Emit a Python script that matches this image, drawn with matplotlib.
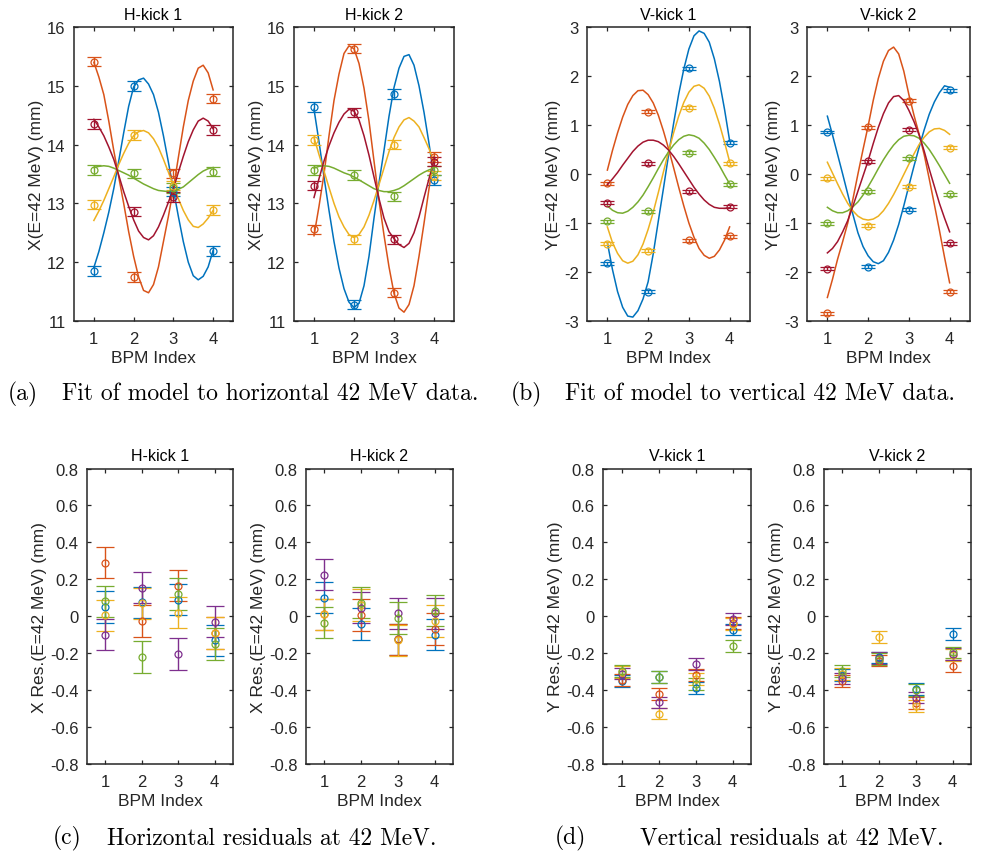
import matplotlib
matplotlib.use("Agg")
import matplotlib.pyplot as plt
from matplotlib.ticker import FuncFormatter, FixedLocator

plt.rcParams['font.family'] = ['Liberation Sans', 'DejaVu Sans']
plt.rcParams['axes.unicode_minus'] = False

# ---------------- data ----------------
bpm = [1, 2, 3, 4]
curve_x = [1.0, 1.125, 1.25, 1.375, 1.5, 1.625, 1.75, 1.875, 2.0, 2.125, 2.25, 2.375, 2.5,
           2.625, 2.75, 2.875, 3.0, 3.125, 3.25, 3.375, 3.5, 3.625, 3.75, 3.875, 4.0]

top_colors = ['#0072BD', '#D95319', '#EDB120', '#77AC30', '#A2142F']
res_colors = ['#0072BD', '#D95319', '#EDB120', '#7E2F8E', '#77AC30']

# H-kick 1 (blue, orange, yellow, green, dark red)
hk1_meas = [[11.85, 15.00, 13.20, 12.19],
            [15.41, 11.75, 13.51, 14.78],
            [12.98, 14.16, 13.30, 12.89],
            [13.57, 13.51, 13.26, 13.54],
            [14.35, 12.86, 13.11, 14.25]]
hk1_fit = [[11.91, 12.18, 12.5, 12.85, 13.25, 13.72, 14.2, 14.65, 14.98, 15.1, 15.13, 15.03, 14.85,
            14.55, 14.15, 13.7, 13.24, 12.78, 12.35, 12.0, 11.77, 11.7, 11.76, 11.92, 12.2],
           [15.40, 15.15, 14.85, 14.4, 13.9, 13.45, 13.0, 12.52, 12.1, 11.75, 11.52, 11.48, 11.62,
            11.92, 12.35, 12.78, 13.25, 13.78, 14.3, 14.75, 15.08, 15.3, 15.35, 15.22, 14.93],
           [12.71, 12.87, 13.05, 13.25, 13.45, 13.66, 13.85, 14.02, 14.15, 14.22, 14.24, 14.2, 14.1,
            13.95, 13.75, 13.53, 13.3, 13.08, 12.88, 12.72, 12.61, 12.59, 12.65, 12.75, 12.88],
           [13.61, 13.63, 13.64, 13.63, 13.6, 13.56, 13.52, 13.48, 13.43, 13.38, 13.33, 13.29, 13.25,
            13.22, 13.21, 13.2, 13.21, 13.24, 13.28, 13.35, 13.42, 13.49, 13.55, 13.59, 13.61],
           [14.43, 14.3, 14.15, 13.96, 13.75, 13.48, 13.2, 12.95, 12.72, 12.53, 12.42, 12.38, 12.45,
            12.6, 12.8, 13.02, 13.25, 13.53, 13.8, 14.05, 14.25, 14.4, 14.45, 14.4, 14.27]]

# H-kick 2
hk2_meas = [[14.64, 11.28, 14.86, 13.40],
            [12.56, 15.63, 11.48, 13.79],
            [14.08, 12.39, 14.00, 13.47],
            [13.57, 13.48, 13.12, 13.56],
            [13.30, 14.55, 12.39, 13.71]]
hk2_fit = [[14.6, 14.05, 13.45, 12.88, 12.35, 11.9, 11.55, 11.32, 11.23, 11.3, 11.6, 12.1, 12.75,
            13.35, 13.9, 14.48, 14.97, 15.3, 15.5, 15.53, 15.35, 15.0, 14.55, 14.02, 13.45],
           [12.45, 12.95, 13.5, 14.15, 14.75, 15.2, 15.55, 15.68, 15.63, 15.38, 14.96, 14.4, 13.72,
            13.05, 12.46, 11.92, 11.47, 11.22, 11.15, 11.28, 11.6, 12.1, 12.66, 13.25, 13.8],
           [14.12, 13.83, 13.55, 13.27, 13.0, 12.77, 12.6, 12.47, 12.42, 12.47, 12.6, 12.8, 13.05,
            13.32, 13.6, 13.88, 14.12, 14.3, 14.42, 14.46, 14.4, 14.3, 14.12, 13.93, 13.7],
           [13.6, 13.63, 13.64, 13.63, 13.6, 13.56, 13.52, 13.49, 13.45, 13.4, 13.35, 13.3, 13.25,
            13.22, 13.2, 13.2, 13.22, 13.25, 13.3, 13.36, 13.42, 13.48, 13.53, 13.57, 13.6],
           [13.1, 13.42, 13.72, 13.98, 14.2, 14.38, 14.52, 14.6, 14.57, 14.42, 14.15, 13.82, 13.45,
            13.08, 12.75, 12.52, 12.4, 12.3, 12.25, 12.32, 12.5, 12.77, 13.1, 13.42, 13.73]]

# V-kick 1
vk1_meas = [[-1.82, -2.40, 2.16, 0.64],
            [-0.19, 1.27, -1.35, -1.27],
            [-1.42, -1.57, 1.35, 0.22],
            [-0.96, -0.76, 0.435, -0.21],
            [-0.585, 0.22, -0.354, -0.667]]
vk1_fit = [[-1.40, -1.95, -2.40, -2.72, -2.90, -2.92, -2.79, -2.55, -2.2, -1.63, -0.96, -0.3, 0.38,
            1.03, 1.63, 2.14, 2.55, 2.82, 2.92, 2.87, 2.69, 2.35, 1.89, 1.32, 0.68],
           [0.08, 0.48, 0.84, 1.16, 1.42, 1.6, 1.70, 1.71, 1.62, 1.45, 1.20, 0.88, 0.52,
            0.13, -0.27, -0.65, -1.0, -1.29, -1.52, -1.66, -1.72, -1.68, -1.55, -1.35, -1.08],
           [-1.08, -1.4, -1.62, -1.77, -1.82, -1.78, -1.65, -1.43, -1.13, -0.78, -0.38, 0.04, 0.45,
            0.84, 1.18, 1.46, 1.67, 1.79, 1.82, 1.75, 1.59, 1.34, 1.02, 0.65, 0.25],
           [-0.65, -0.74, -0.79, -0.8, -0.76, -0.68, -0.57, -0.43, -0.26, -0.08, 0.11, 0.29, 0.45,
            0.59, 0.70, 0.77, 0.80, 0.78, 0.73, 0.63, 0.50, 0.34, 0.17, -0.02, -0.20],
           [-0.22, -0.1, 0.03, 0.18, 0.32, 0.46, 0.57, 0.65, 0.69, 0.69, 0.66, 0.59, 0.49,
            0.36, 0.21, 0.05, -0.11, -0.27, -0.41, -0.53, -0.62, -0.68, -0.70, -0.70, -0.69]]

# V-kick 2
vk2_meas = [[0.857, -1.89, -0.73, 1.71],
            [-2.84, 0.95, 1.50, -2.40],
            [-0.09, -1.06, -0.26, 0.54],
            [-1.01, -0.35, 0.32, -0.41],
            [-1.93, 0.26, 0.90, -1.41]]
vk2_fit = [[1.18, 0.8, 0.40, 0.0, -0.41, -0.82, -1.2, -1.48, -1.67, -1.79, -1.83, -1.77, -1.6,
            -1.35, -1.03, -0.65, -0.24, 0.16, 0.54, 0.9, 1.22, 1.47, 1.66, 1.80, 1.77],
           [-2.52, -2.15, -1.74, -1.38, -1.0, -0.52, 0.0, 0.5, 0.98, 1.5, 1.95, 2.3, 2.52,
            2.59, 2.45, 2.1, 1.62, 1.2, 0.82, 0.4, -0.1, -0.62, -1.15, -1.7, -2.22],
           [0.24, 0.02, -0.2, -0.41, -0.6, -0.75, -0.86, -0.92, -0.94, -0.92, -0.86, -0.75, -0.6,
            -0.42, -0.22, -0.01, 0.2, 0.41, 0.6, 0.75, 0.86, 0.92, 0.93, 0.89, 0.81],
           [-0.68, -0.75, -0.79, -0.79, -0.75, -0.67, -0.57, -0.43, -0.26, -0.08, 0.11, 0.29, 0.45,
            0.59, 0.70, 0.77, 0.79, 0.78, 0.73, 0.63, 0.50, 0.34, 0.17, -0.01, -0.19],
           [-1.61, -1.52, -1.38, -1.18, -0.95, -0.66, -0.35, -0.04, 0.27, 0.62, 0.95, 1.23, 1.45,
            1.58, 1.6, 1.5, 1.3, 1.07, 0.8, 0.47, 0.1, -0.25, -0.6, -0.9, -1.18]]

# residuals (blue, orange, yellow, purple, green)
hk1_res = [[0.05, 0.075, 0.09, -0.13],
           [0.29, -0.025, 0.165, -0.09],
           [0.005, 0.07, 0.02, -0.09],
           [-0.10, 0.155, -0.205, -0.03],
           [0.08, -0.22, 0.12, -0.15]]
hk2_res = [[0.10, -0.043, -0.125, -0.10],
           [0.01, 0.007, -0.125, -0.07],
           [0.01, 0.06, -0.13, -0.025],
           [0.225, 0.047, 0.015, 0.015],
           [-0.035, 0.074, -0.01, 0.03]]
vk1_res = [[-0.35, -0.33, -0.39, -0.072],
           [-0.345, -0.42, -0.317, -0.035],
           [-0.30, -0.527, -0.34, -0.04],
           [-0.31, -0.467, -0.26, -0.015],
           [-0.295, -0.33, -0.368, -0.16]]
vk2_res = [[-0.32, -0.223, -0.395, -0.096],
           [-0.35, -0.24, -0.47, -0.268],
           [-0.313, -0.114, -0.487, -0.21],
           [-0.337, -0.228, -0.44, -0.205],
           [-0.295, -0.232, -0.40, -0.196]]

h_err, v_err = 0.08, 0.03
hres_err, vres_err = 0.085, 0.032

titles = ['H-kick 1', 'H-kick 2', 'V-kick 1', 'V-kick 2']
top_ylabels = ['X(E=42 MeV) (mm)', 'X(E=42 MeV) (mm)', 'Y(E=42 MeV) (mm)', 'Y(E=42 MeV) (mm)']
bot_ylabels = ['X Res.(E=42 MeV) (mm)', 'X Res.(E=42 MeV) (mm)', 'Y Res.(E=42 MeV) (mm)', 'Y Res.(E=42 MeV) (mm)']
captions = [('(a)', 'Fit of model to horizontal 42 MeV data.'),
            ('(b)', 'Fit of model to vertical 42 MeV data.'),
            ('(c)', 'Horizontal residuals at 42 MeV.'),
            ('(d)', 'Vertical residuals at 42 MeV.')]

# ---------------- figure ----------------
W, H = 998, 853
fig = plt.figure(figsize=(W / 100, H / 100), dpi=100)
AX = '#262626'


def px_axes(l, r, t, b):
    return fig.add_axes([l / W, 1 - b / H, (r - l) / W, (b - t) / H])


def style(ax, title, ylabel, ylim, yticks):
    ax.set_xlim(0.5, 4.5)
    ax.set_ylim(*ylim)
    ax.xaxis.set_major_locator(FixedLocator(bpm))
    ax.yaxis.set_major_locator(FixedLocator(yticks))
    ax.yaxis.set_major_formatter(FuncFormatter(lambda v, p: '%g' % round(v, 6)))
    ax.tick_params(direction='in', top=True, right=True, length=3.2, width=0.9,
                   colors=AX, labelsize=12)
    ax.tick_params(axis='x', pad=7)
    ax.tick_params(axis='y', pad=6)
    for s in ax.spines.values():
        s.set_color(AX)
        s.set_linewidth(1.1)
    ax.set_title(title, fontsize=11.5, color='black', pad=6)
    ax.set_xlabel('BPM Index', fontsize=12.5, color=AX, labelpad=3)
    ax.set_ylabel(ylabel, fontsize=12.5, color=AX, labelpad=2)


top_boxes = [(74, 233, 28, 322), (294, 454, 28, 322), (587, 750, 28, 322), (807, 970, 28, 322)]
bot_boxes = [(87, 233, 469.5, 765), (306, 453, 469.5, 765), (603, 751, 469.5, 765), (824, 971, 469.5, 765)]

top_meas = [hk1_meas, hk2_meas, vk1_meas, vk2_meas]
top_fit = [hk1_fit, hk2_fit, vk1_fit, vk2_fit]
top_err = [h_err, h_err, v_err, v_err]
top_ylim = [(11, 16), (11, 16), (-3, 3), (-3, 3)]
top_yticks = [[11, 12, 13, 14, 15, 16], [11, 12, 13, 14, 15, 16],
              [-3, -2, -1, 0, 1, 2, 3], [-3, -2, -1, 0, 1, 2, 3]]

for i in range(4):
    ax = px_axes(*top_boxes[i])
    for k in range(5):
        c = top_colors[k]
        ax.plot(curve_x, top_fit[i][k], color=c, lw=1.1)
        ax.errorbar(bpm, top_meas[i][k], yerr=top_err[i], fmt='o', color=c,
                    mfc='none', mec=c, ms=5, mew=0.9, elinewidth=1.0, capsize=5, capthick=1.0)
    style(ax, titles[i], top_ylabels[i], top_ylim[i], top_yticks[i])

bot_res = [hk1_res, hk2_res, vk1_res, vk2_res]
bot_err = [hres_err, hres_err, vres_err, vres_err]
bot_cap = [6.8, 6.5, 5.8, 5.6]
res_ticks = [-0.8, -0.6, -0.4, -0.2, 0, 0.2, 0.4, 0.6, 0.8]

for i in range(4):
    ax = px_axes(*bot_boxes[i])
    for k in range(5):
        c = res_colors[k]
        ax.errorbar(bpm, bot_res[i][k], yerr=bot_err[i], fmt='o', color=c,
                    mfc='none', mec=c, ms=5, mew=0.9, elinewidth=1.0,
                    capsize=bot_cap[i], capthick=1.0)
    style(ax, titles[i], bot_ylabels[i], (-0.8, 0.8), res_ticks)

# captions
cap_pos = [(8, 62, 394), (511, 565, 394), (53, 107, 838), (555, 640, 838)]
for (lab, txt), (x1, x2, y) in zip(captions, cap_pos):
    fig.text(x1 / W, 1 - y / H, lab, fontsize=17, family=['cmr10', 'DejaVu Serif'],
             ha='left', va='center')
    fig.text(x2 / W, 1 - y / H, txt, fontsize=17, family=['cmr10', 'DejaVu Serif'],
             ha='left', va='center')

fig.savefig('out.png', dpi=100)
